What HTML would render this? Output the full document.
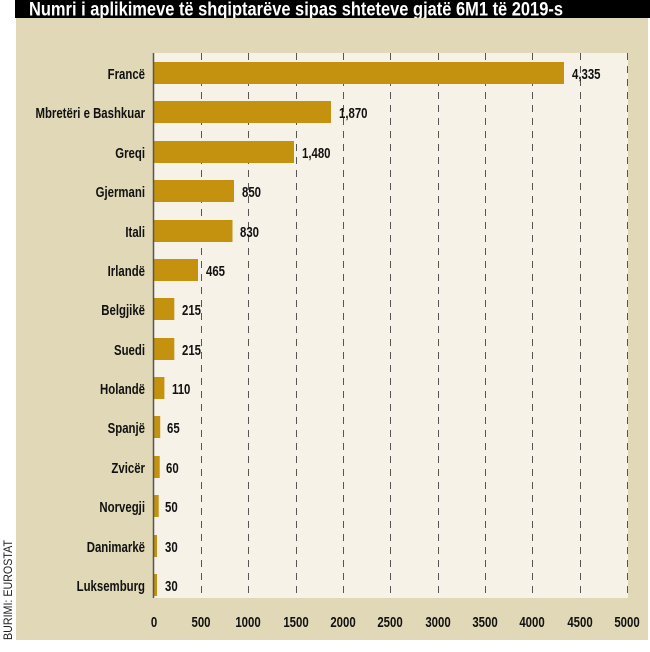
<!DOCTYPE html>
<html><head><meta charset="utf-8"><style>
body{margin:0;width:650px;height:652px;background:#fff;position:relative;overflow:hidden;font-family:"Liberation Sans",sans-serif;}
</style></head><body>
<svg width="650" height="652" style="position:absolute;left:0;top:0" font-family="Liberation Sans, sans-serif">
<rect x="15" y="0" width="635" height="18" fill="#000"/>
<text x="29" y="15.5" fill="#fff" font-size="19" font-weight="bold" textLength="534" lengthAdjust="spacingAndGlyphs">Numri i aplikimeve të shqiptarëve sipas shteteve gjatë 6M1 të 2019-s</text>
<rect x="16" y="18" width="632" height="622" fill="#e0d8b6"/>
<rect x="154" y="53" width="474" height="545" fill="#f6f2e8"/>
<g stroke="#555" stroke-width="1" stroke-dasharray="7,6">
<line x1="201.5" y1="53" x2="201.5" y2="598"/><line x1="248.5" y1="53" x2="248.5" y2="598"/><line x1="296.5" y1="53" x2="296.5" y2="598"/><line x1="343.5" y1="53" x2="343.5" y2="598"/><line x1="390.5" y1="53" x2="390.5" y2="598"/><line x1="438.5" y1="53" x2="438.5" y2="598"/><line x1="485.5" y1="53" x2="485.5" y2="598"/><line x1="532.5" y1="53" x2="532.5" y2="598"/><line x1="580.5" y1="53" x2="580.5" y2="598"/><line x1="627.5" y1="53" x2="627.5" y2="598"/>
</g>
<g fill="#c4920f">
<rect x="154" y="62" width="410" height="22"/>
<rect x="154" y="101" width="177" height="22"/>
<rect x="154" y="141" width="140" height="22"/>
<rect x="154" y="180" width="80" height="22"/>
<rect x="154" y="220" width="78.5" height="22"/>
<rect x="154" y="259" width="44" height="22"/>
<rect x="154" y="298" width="20.3" height="22"/>
<rect x="154" y="338" width="20.3" height="22"/>
<rect x="154" y="377" width="10.4" height="22"/>
<rect x="154" y="416" width="6.2" height="22"/>
<rect x="154" y="456" width="5.7" height="22"/>
<rect x="154" y="495" width="4.7" height="22"/>
<rect x="154" y="535" width="3" height="22"/>
<rect x="154" y="574" width="3" height="22"/>
</g>
<line x1="153.5" y1="53" x2="153.5" y2="598" stroke="#555" stroke-width="1.5"/>
<g font-size="15" fill="#111" font-weight="bold" text-anchor="end" transform="translate(145,0) scale(0.76,1)">
<text x="0" y="79">Francë</text><text x="0" y="118">Mbretëri e Bashkuar</text><text x="0" y="158">Greqi</text><text x="0" y="197">Gjermani</text><text x="0" y="237">Itali</text><text x="0" y="276">Irlandë</text><text x="0" y="315">Belgjikë</text><text x="0" y="355">Suedi</text><text x="0" y="394">Holandë</text><text x="0" y="433">Spanjë</text><text x="0" y="473">Zvicër</text><text x="0" y="512">Norvegji</text><text x="0" y="552">Danimarkë</text><text x="0" y="591">Luksemburg</text>
</g>
<g font-size="15" fill="#111" font-weight="bold">
<text transform="translate(572,79) scale(0.76,1)">4,335</text>
<text transform="translate(339,118) scale(0.76,1)">1,870</text>
<text transform="translate(302,158) scale(0.76,1)">1,480</text>
<text transform="translate(242,197) scale(0.76,1)">850</text>
<text transform="translate(240,237) scale(0.76,1)">830</text>
<text transform="translate(206,276) scale(0.76,1)">465</text>
<text transform="translate(182,315) scale(0.76,1)">215</text>
<text transform="translate(182,355) scale(0.76,1)">215</text>
<text transform="translate(172,394) scale(0.76,1)">110</text>
<text transform="translate(167,433) scale(0.76,1)">65</text>
<text transform="translate(166,473) scale(0.76,1)">60</text>
<text transform="translate(165,512) scale(0.76,1)">50</text>
<text transform="translate(165,552) scale(0.76,1)">30</text>
<text transform="translate(165,591) scale(0.76,1)">30</text>
</g>
<g font-size="15" fill="#111" font-weight="bold" text-anchor="middle">
<text transform="translate(154,627) scale(0.76,1)">0</text>
<text transform="translate(201,627) scale(0.76,1)">500</text>
<text transform="translate(248,627) scale(0.76,1)">1000</text>
<text transform="translate(296,627) scale(0.76,1)">1500</text>
<text transform="translate(343,627) scale(0.76,1)">2000</text>
<text transform="translate(390,627) scale(0.76,1)">2500</text>
<text transform="translate(438,627) scale(0.76,1)">3000</text>
<text transform="translate(485,627) scale(0.76,1)">3500</text>
<text transform="translate(532,627) scale(0.76,1)">4000</text>
<text transform="translate(580,627) scale(0.76,1)">4500</text>
<text transform="translate(627,627) scale(0.76,1)">5000</text>
</g>
<text transform="translate(12,640) rotate(-90)" font-size="12" fill="#222" textLength="100" lengthAdjust="spacingAndGlyphs">BURIMI: EUROSTAT</text>
</svg>
</body></html>
